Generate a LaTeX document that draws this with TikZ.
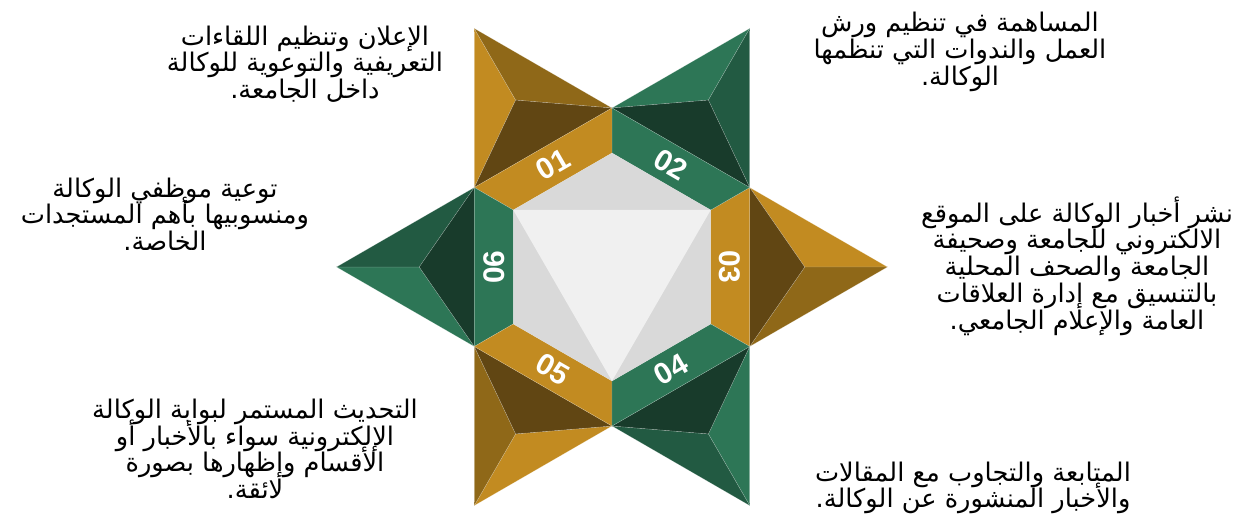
\documentclass[tikz,border=0pt]{standalone}
\usepackage{fontspec}
\setmainfont{Liberation Sans}
\newfontfamily\arabicfont[Script=Arabic]{DejaVu Sans}
\TeXXeTstate=1
\usetikzlibrary{calc}
\definecolor{goldA}{HTML}{C28B21}
\definecolor{goldB}{HTML}{8F6818}
\definecolor{goldC}{HTML}{614613}
\definecolor{greenA}{HTML}{2D7656}
\definecolor{greenB}{HTML}{225A42}
\definecolor{greenC}{HTML}{183B2B}
\definecolor{greyA}{HTML}{D9D9D9}
\definecolor{greyB}{HTML}{F0F0F0}
\newcommand{\arline}[1]{\beginR #1\endR}
\newcommand{\infofont}{\arabicfont\fontsize{14.6}{15.2}\selectfont\lineskiplimit=-20pt\relax}

\begin{document}
\begin{tikzpicture}
  \tikzset{face/.style={draw=white,draw opacity=0.35,line width=0.2pt},
    num/.style={text=white,inner sep=0,font=\fontsize{17}{17}\selectfont\bfseries},
    info/.style={align=center,text=black,font=\infofont}}
  \useasboundingbox (-12.24,-5.0) rectangle (12.58,5.34);
  \coordinate (o0) at (30:3.18);
  \coordinate (o1) at (90:3.18);
  \coordinate (o2) at (150:3.18);
  \coordinate (o3) at (210:3.18);
  \coordinate (o4) at (270:3.18);
  \coordinate (o5) at (330:3.18);
  \coordinate (i0) at (30:2.28);
  \coordinate (i1) at (90:2.28);
  \coordinate (i2) at (150:2.28);
  \coordinate (i3) at (210:2.28);
  \coordinate (i4) at (270:2.28);
  \coordinate (i5) at (330:2.28);
  \coordinate (t0) at (0:5.51);
  \coordinate (t1) at (60:5.51);
  \coordinate (t2) at (120:5.51);
  \coordinate (t3) at (180:5.51);
  \coordinate (t4) at (240:5.51);
  \coordinate (t5) at (300:5.51);
  \coordinate (c0) at (0:3.855);
  \coordinate (c1) at (60:3.855);
  \coordinate (c2) at (120:3.855);
  \coordinate (c3) at (180:3.855);
  \coordinate (c4) at (240:3.855);
  \coordinate (c5) at (300:3.855);
  \filldraw [face,fill=goldA] (o0) -- (t0) -- (c0) -- cycle;
  \filldraw [face,fill=goldB] (o5) -- (t0) -- (c0) -- cycle;
  \filldraw [face,fill=goldC] (o5) -- (o0) -- (c0) -- cycle;
  \filldraw [face,fill=greenA] (o1) -- (t1) -- (c1) -- cycle;
  \filldraw [face,fill=greenB] (o0) -- (t1) -- (c1) -- cycle;
  \filldraw [face,fill=greenC] (o0) -- (o1) -- (c1) -- cycle;
  \filldraw [face,fill=goldA] (o2) -- (t2) -- (c2) -- cycle;
  \filldraw [face,fill=goldB] (o1) -- (t2) -- (c2) -- cycle;
  \filldraw [face,fill=goldC] (o1) -- (o2) -- (c2) -- cycle;
  \filldraw [face,fill=greenA] (o3) -- (t3) -- (c3) -- cycle;
  \filldraw [face,fill=greenB] (o2) -- (t3) -- (c3) -- cycle;
  \filldraw [face,fill=greenC] (o2) -- (o3) -- (c3) -- cycle;
  \filldraw [face,fill=goldA] (o4) -- (t4) -- (c4) -- cycle;
  \filldraw [face,fill=goldB] (o3) -- (t4) -- (c4) -- cycle;
  \filldraw [face,fill=goldC] (o3) -- (o4) -- (c4) -- cycle;
  \filldraw [face,fill=greenA] (o5) -- (t5) -- (c5) -- cycle;
  \filldraw [face,fill=greenB] (o4) -- (t5) -- (c5) -- cycle;
  \filldraw [face,fill=greenC] (o4) -- (o5) -- (c5) -- cycle;
  \filldraw [face,fill=goldA] (o5) -- (o0) -- (i0) -- (i5) -- cycle;
  \filldraw [face,fill=greenA] (o0) -- (o1) -- (i1) -- (i0) -- cycle;
  \filldraw [face,fill=goldA] (o1) -- (o2) -- (i2) -- (i1) -- cycle;
  \filldraw [face,fill=greenA] (o2) -- (o3) -- (i3) -- (i2) -- cycle;
  \filldraw [face,fill=goldA] (o3) -- (o4) -- (i4) -- (i3) -- cycle;
  \filldraw [face,fill=greenA] (o4) -- (o5) -- (i5) -- (i4) -- cycle;
  \fill [greyA] (i0) -- (i1) -- (i2) -- (i3) -- (i4) -- (i5) -- cycle;
  \fill [greyB] (i0) -- (i2) -- (i4) -- cycle;
  \node[num,rotate=30] (n01) at (120:2.364) {01};
  \node[num,rotate=-30] (n02) at (60:2.364) {02};
  \node[num,rotate=-90] (n03) at (0:2.364) {03};
  \node[num,rotate=30] (n04) at (300:2.364) {04};
  \node[num,rotate=-30] (n05) at (240:2.364) {05};
  \node[num,rotate=90] (n06) at (180:2.364) {06};
  \node[info] (a01) at (-6.14,4.06) {\arline{الإعلان وتنظيم اللقاءات}\\\arline{التعريفية والتوعوية للوكالة}\\\arline{داخل الجامعة.}};
  \node[info] (a02) at (6.96,4.3) {\arline{المساهمة في تنظيم ورش}\\\arline{العمل والندوات التي تنظمها}\\\arline{الوكالة.}};
  \node[info] (a03) at (9.30,0.02) {\arline{نشر أخبار الوكالة على الموقع}\\\arline{الالكتروني للجامعة وصحيفة}\\\arline{الجامعة والصحف المحلية}\\\arline{بالتنسيق مع إدارة العلاقات}\\\arline{العامة والإعلام الجامعي.}};
  \node[info] (a04) at (7.22,-4.42) {\arline{المتابعة والتجاوب مع المقالات}\\\arline{والأخبار المنشورة عن الوكالة.}};
  \node[info] (a05) at (-7.14,-3.64) {\arline{التحديث المستمر لبوابة الوكالة}\\\arline{الإلكترونية سواء بالأخبار أو}\\\arline{الأقسام وإظهارها بصورة}\\\arline{لائقة.}};
  \node[info] (a06) at (-8.94,1.06) {\arline{توعية موظفي الوكالة}\\\arline{ومنسوبيها بأهم المستجدات}\\\arline{الخاصة.}};
\end{tikzpicture}
\end{document}
